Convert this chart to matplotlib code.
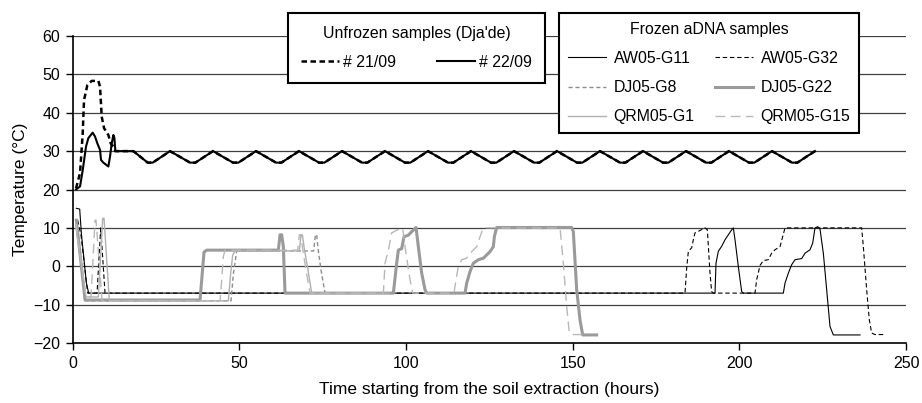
import matplotlib

matplotlib.use("Agg")
import matplotlib.pyplot as plt

plt.rcParams["font.family"] = ["Liberation Sans", "DejaVu Sans"]

# unfrozen samples: start of the record, then the shared incubator cycle
t_2109 = [1.0, 2.2, 3.0, 3.4, 4.4, 5.7, 7.7, 8.2, 8.7, 9.4, 10.7, 11.4, 12.2, 12.8, 18.2]
v_2109 = [20.3, 24.3, 34.6, 43.3, 47.2, 48.3, 48.3, 46.8, 39.0, 36.0, 34.2, 32.0, 31.2, 30.0, 30.0]
t_2209 = [1.0, 2.2, 3.0, 4.0, 4.7, 6.0, 6.7, 7.4, 8.2, 8.5, 9.2, 10.7, 11.2, 11.7, 12.2, 12.5, 12.8, 18.2]
v_2209 = [20.0, 20.8, 25.0, 31.2, 33.4, 34.8, 33.8, 32.0, 30.3, 27.7, 27.0, 26.0, 28.6, 32.0, 34.2, 33.5, 30.0, 30.0]
wave_t = [22.5, 24.0, 29.2, 35.2, 36.8, 42.1, 48.1, 49.7, 55.0, 61.0, 62.6, 67.9,
          73.9, 75.5, 80.8, 86.8, 88.4, 93.7, 99.7, 101.3, 106.6, 112.6, 114.2, 119.5,
          125.5, 127.1, 132.4, 138.4, 140.0, 145.3, 151.3, 152.9, 158.2, 164.2, 165.8, 171.1,
          177.1, 178.7, 184.0, 190.0, 191.6, 196.9, 202.9, 204.5, 209.8, 215.8, 217.4, 222.7]
wave_v = [27, 27, 30, 27, 27, 30, 27, 27, 30, 27, 27, 30,
          27, 27, 30, 27, 27, 30, 27, 27, 30, 27, 27, 30,
          27, 27, 30, 27, 27, 30, 27, 27, 30, 27, 27, 30,
          27, 27, 30, 27, 27, 30, 27, 27, 30, 27, 27, 30]

# frozen aDNA samples
t_aw11 = [1.1, 2.1, 2.6, 4.1, 4.8, 192.7, 193.0, 193.7, 194.7, 195.7, 196.7, 197.7, 198.2,
          198.7, 199.7, 200.7, 201.2, 213.2, 213.7, 214.7, 215.7, 216.7, 218.7, 219.7, 221.2,
          222.0, 222.7, 223.5, 224.2, 225.2, 226.2, 227.2, 228.2, 236.2]
v_aw11 = [15.1, 14.9, 8.6, -4.4, -7.0, -7.0, 0.8, 3.9, 5.2, 6.9, 8.2, 9.5, 10.0,
          6.9, -0.1, -6.6, -7.0, -7.0, -4.4, -1.8, 0.4, 1.7, 2.0, 3.4, 4.3,
          6.0, 10.0, 10.3, 9.7, 3.4, -6.1, -15.7, -17.9, -17.9]
t_aw32 = [1.5, 2.5, 4.5, 7.3, 8.4, 9.7, 183.7, 184.2, 184.7, 185.7, 186.2, 186.7, 187.7,
          189.0, 189.7, 190.4, 191.2, 191.7, 192.2, 204.7, 205.2, 206.2, 207.2, 208.7, 209.7,
          210.7, 212.2, 213.0, 213.7, 236.7, 237.2, 238.2, 239.0, 239.7, 240.7, 243.7]
v_aw32 = [12.0, 8.0, -7.0, -7.0, 10.0, -7.0, -7.0, -0.5, 3.9, 4.8, 6.9, 8.7, 9.1,
          9.7, 10.0, 9.5, -1.8, -6.6, -7.0, -7.0, -3.5, 0.2, 1.5, 1.7, 3.4,
          4.3, 5.1, 7.7, 10.0, 10.0, 5.1, -6.1, -14.0, -17.4, -17.8, -17.8]
t_dj8 = [1.0, 3.8, 47.5, 48.2, 49.2, 72.3, 72.8, 73.2, 73.6, 74.5, 75.7, 95.0]
v_dj8 = [11.0, -9.0, -9.0, -2.0, 4.0, 4.0, 8.2, 8.2, 4.5, -1.0, -7.0, -7.0]
t_dj22 = [1.1, 3.7, 38.2, 38.7, 39.4, 40.2, 61.7, 62.2, 62.7, 63.2, 63.7, 96.2, 97.2, 97.7,
          98.7, 99.4, 100.7, 101.7, 103.0, 103.7, 104.7, 105.7, 106.2, 117.7, 118.2, 119.2,
          120.2, 121.7, 123.2, 125.2, 126.2, 126.5, 127.2, 149.7, 150.2, 151.2, 152.2, 153.0, 157.2]
v_dj22 = [12.0, -8.8, -8.8, -3.6, 3.7, 4.2, 4.2, 8.2, 8.2, 5.1, -7.0, -7.0, 0.8, 4.2,
          4.6, 7.7, 8.1, 9.0, 10.1, 5.1, -1.8, -6.1, -7.0, -7.0, -4.4, -1.4,
          0.8, 1.7, 2.1, 3.8, 5.1, 7.7, 10.1, 10.1, 9.0, -6.1, -14.0, -17.9, -17.9]
t_qrm1 = [1.0, 4.0, 7.7, 9.0, 9.4, 11.0, 46.7, 47.4, 48.0, 48.7, 68.0, 68.5, 68.9, 69.5, 70.6, 71.7, 95.0]
v_qrm1 = [10.0, -8.0, -8.0, 12.5, 12.5, -9.0, -9.0, -1.8, 2.9, 4.0, 4.0, 8.2, 8.2, 4.5, -1.0, -7.0, -7.0]
t_qrm15 = [1.0, 4.0, 5.5, 6.7, 7.0, 8.8, 44.2, 44.7, 45.2, 45.7, 67.5, 68.0, 68.4, 69.0,
           70.0, 71.2, 93.2, 93.7, 94.7, 95.7, 97.2, 99.0, 99.7, 101.2, 102.0, 114.4, 115.0,
           115.7, 116.7, 118.2, 119.7, 121.2, 122.2, 123.2, 146.2, 147.2, 148.2, 149.0, 150.2, 153.2]
v_qrm15 = [11.0, -8.0, -8.0, 12.0, 12.0, -9.0, -9.0, -3.6, 2.5, 4.2, 4.2, 8.2, 8.2, 4.5,
           -1.0, -7.0, -7.0, 0.8, 4.2, 8.7, 9.4, 10.0, 5.1, -3.5, -7.0, -7.0, -3.5,
           0.0, 1.7, 2.1, 3.8, 5.1, 7.7, 10.0, 10.0, 0.8, -10.5, -17.4, -17.8, -17.8]

fig = plt.figure(figsize=(9.22, 4.03), dpi=100)
ax = fig.add_axes([72.7 / 922, 1 - 343 / 403, (906 - 72.7) / 922, (343 - 36) / 403])

for y in range(-10, 70, 10):
    ax.axhline(y, color="#404040", lw=0.9, zorder=1)

l2109, = ax.plot(t_2109 + wave_t, v_2109 + wave_v, color="black", lw=1.8,
                 ls=(0, (2.2, 1.4)), label="# 21/09", zorder=3)
l2209, = ax.plot(t_2209 + wave_t, v_2209 + wave_v, color="black", lw=1.5,
                 label="# 22/09", zorder=3)

h_aw11, = ax.plot(t_aw11, v_aw11, color="black", lw=0.8, label="AW05-G11", zorder=2)
h_aw32, = ax.plot(t_aw32, v_aw32, color="black", lw=0.8, ls=(0, (4, 2.5)),
                  label="AW05-G32", zorder=2)
h_dj8, = ax.plot(t_dj8, v_dj8, color="#8c8c8c", lw=1.0, ls=(0, (3, 2)),
                 label="DJ05-G8", zorder=3)
h_dj22, = ax.plot(t_dj22, v_dj22, color="#9a9a9a", lw=2.2, label="DJ05-G22", zorder=3)
h_qrm1, = ax.plot(t_qrm1, v_qrm1, color="#b0b0b0", lw=1.0, label="QRM05-G1", zorder=3)
h_qrm15, = ax.plot(t_qrm15, v_qrm15, color="#b8b8b8", lw=1.0, ls=(0, (7, 4)),
                   label="QRM05-G15", zorder=3)

ax.set_xlim(0, 250)
ax.set_ylim(-20, 60)
ax.set_xticks(range(0, 251, 50))
ax.set_yticks(range(-20, 61, 10))
ax.tick_params(labelsize=11.5, length=5, width=1, direction="out", pad=4)
for side in ["top", "right"]:
    ax.spines[side].set_visible(False)
for side in ["left", "bottom"]:
    ax.spines[side].set_linewidth(1.2)
ax.set_xlabel("Time starting from the soil extraction (hours)", fontsize=12.5, labelpad=8)
ax.set_ylabel("Temperature (°C)", fontsize=12.5, labelpad=4)

leg1 = fig.legend(handles=[l2109, l2209], ncol=2, title="Unfrozen samples (Dja'de)",
                  loc="upper left", mode="expand",
                  bbox_to_anchor=(288 / 922, 1 - 80 / 403, 257 / 922, 67 / 403),
                  fontsize=11.4, title_fontsize=11.4, frameon=True, fancybox=False,
                  edgecolor="black", framealpha=1, handlelength=2.4, handletextpad=0.3,
                  labelspacing=0.9, borderpad=0.8, borderaxespad=0)
leg1.get_frame().set_linewidth(1.5)

leg2 = fig.legend(handles=[h_aw11, h_dj8, h_qrm1, h_aw32, h_dj22, h_qrm15], ncol=2,
                  title="Frozen aDNA samples", loc="upper left", mode="expand",
                  bbox_to_anchor=(559 / 922, 1 - 132 / 403, 300 / 922, 119 / 403),
                  fontsize=11.4, title_fontsize=11.4, frameon=True, fancybox=False,
                  edgecolor="black", framealpha=1, handlelength=2.4, handletextpad=0.5,
                  labelspacing=0.9, borderpad=0.55, borderaxespad=0)
leg2.get_frame().set_linewidth(1.5)

fig.savefig("out.png", dpi=100)
